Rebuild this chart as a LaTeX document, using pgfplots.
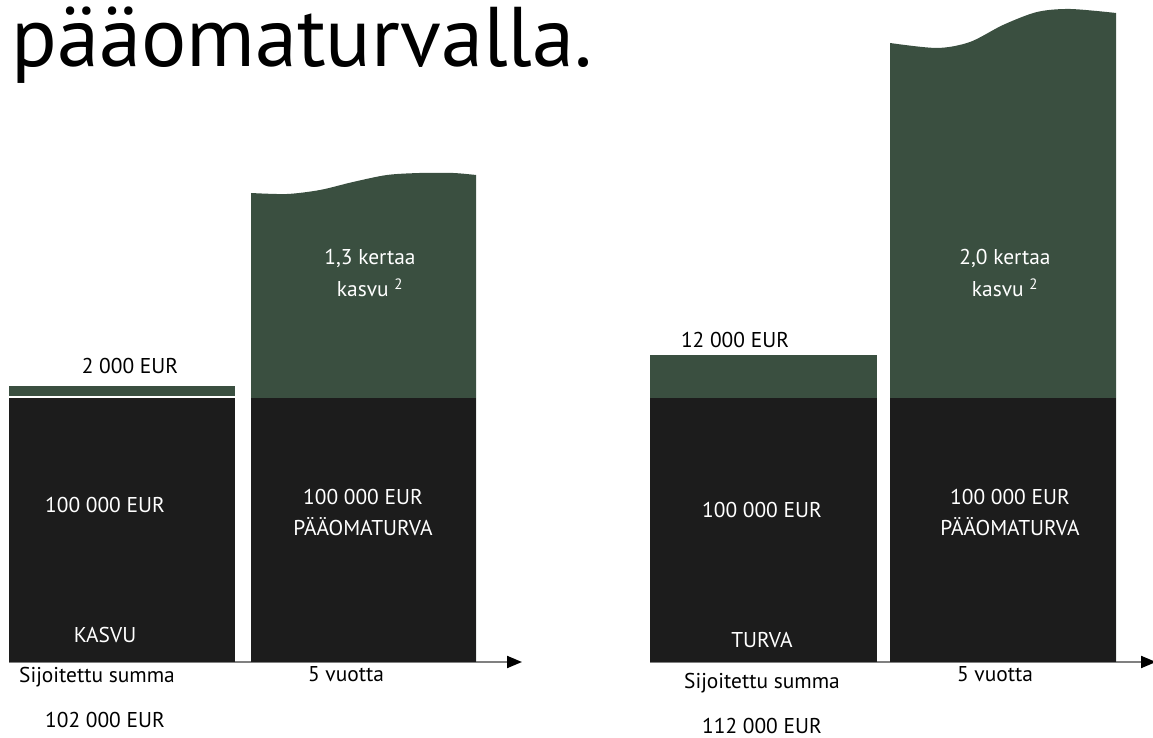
\documentclass[border=0pt]{standalone}
\usepackage{fontspec}
\setmainfont{PT Sans}
\usepackage{pgfplots}
\pgfplotsset{compat=1.18}
\usetikzlibrary{arrows.meta}
\definecolor{barblack}{HTML}{1C1C1C}
\definecolor{bargreen}{HTML}{3A4F40}
\definecolor{axgray}{HTML}{808080}
\newcommand{\lbl}{\fontsize{21.5}{25}\selectfont}
\begin{document}
\begin{tikzpicture}
\path[use as bounding box] (0bp,0bp) rectangle (1153bp,738bp);
\begin{axis}[at={(0bp,0bp)}, anchor=south west, scale only axis,
  width=1153bp, height=738bp, xmin=0, xmax=1153, ymin=-28788, ymax=250758,
  hide axis, clip=false]
% baselines with arrows
\draw[axgray, line width=2bp, -{Triangle[length=15bp,width=12bp,color=black]}] (axis cs:9,0) -- (axis cs:522,0);
\draw[axgray, line width=2bp, -{Triangle[length=15bp,width=12bp,color=black]}] (axis cs:650,0) -- (axis cs:1156,0);
% wavy growth bars (filled down to 0, lower part covered by black)
\addplot[fill=bargreen, draw=none, smooth] coordinates {(251,177650) (287,177270) (320,178790) (353,181820) (387,184470) (420,185230) (453,185230) (476,184470)} \closedcycle;
\addplot[fill=bargreen, draw=none, smooth] coordinates {(890,234470) (937,232580) (970,234850) (1003,241290) (1037,246210) (1070,247350) (1116,245840)} \closedcycle;
% invested capital (black)
\addplot[fill=barblack, draw=none] coordinates {(9,0) (9,100000) (235,100000) (235,0)} --cycle;
\addplot[fill=barblack, draw=none] coordinates {(251,0) (251,100000) (476,100000) (476,0)} --cycle;
\addplot[fill=barblack, draw=none] coordinates {(650,0) (650,100000) (877,100000) (877,0)} --cycle;
\addplot[fill=barblack, draw=none] coordinates {(890,0) (890,100000) (1116,100000) (1116,0)} --cycle;
% growth part (green)
\addplot[fill=bargreen, draw=none] coordinates {(9,100800) (9,104500) (235,104500) (235,100800)} --cycle;
\addplot[fill=bargreen, draw=none] coordinates {(650,100000) (650,116300) (877,116300) (877,100000)} --cycle;
\end{axis}
% title
\node[anchor=base west, inner sep=0pt, font=\fontsize{85}{85}\selectfont] at (11bp,671bp) {pääomaturvalla.};
% labels group 1
\node[font=\lbl] at (130bp,372bp) {2 000 EUR};
\node[font=\lbl, text=white] at (105bp,233bp) {100 000 EUR};
\node[font=\lbl, text=white] at (105bp,103bp) {KASVU};
\node[font=\lbl] at (97bp,61bp) {Sijoitettu summa};
\node[font=\lbl] at (105bp,18bp) {102 000 EUR};
\node[font=\lbl, text=white] at (370bp,480bp) {1,3 kertaa};
\node[font=\lbl, text=white] at (370bp,450bp) {kasvu \textsuperscript{2}};
\node[font=\lbl, text=white] at (363bp,241bp) {100 000 EUR};
\node[font=\lbl, text=white] at (363bp,211bp) {PÄÄOMATURVA};
\node[font=\lbl] at (346bp,64bp) {5 vuotta};
% labels group 2
\node[font=\lbl] at (735bp,398bp) {12 000 EUR};
\node[font=\lbl, text=white] at (762bp,228bp) {100 000 EUR};
\node[font=\lbl, text=white] at (762bp,98bp) {TURVA};
\node[font=\lbl] at (762bp,55bp) {Sijoitettu summa};
\node[font=\lbl] at (762bp,12bp) {112 000 EUR};
\node[font=\lbl, text=white] at (1005bp,480bp) {2,0 kertaa};
\node[font=\lbl, text=white] at (1005bp,450bp) {kasvu \textsuperscript{2}};
\node[font=\lbl, text=white] at (1010bp,241bp) {100 000 EUR};
\node[font=\lbl, text=white] at (1010bp,211bp) {PÄÄOMATURVA};
\node[font=\lbl] at (995bp,64bp) {5 vuotta};
\end{tikzpicture}
\end{document}
